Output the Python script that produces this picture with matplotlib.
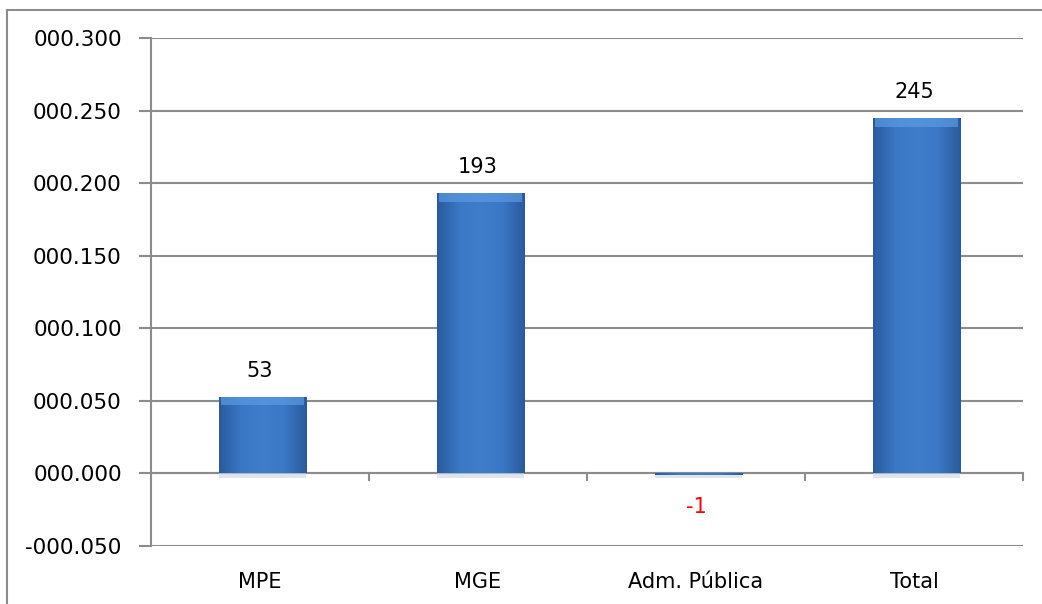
import matplotlib
matplotlib.use("Agg")
import matplotlib.pyplot as plt
import numpy as np
from matplotlib.patches import Rectangle
from matplotlib.colors import LinearSegmentedColormap
from matplotlib.ticker import FuncFormatter, MultipleLocator

categories = ["MPE", "MGE", "Adm. Pública", "Total"]
values = [0.053, 0.193, -0.001, 0.245]
labels = ["53", "193", "-1", "245"]
label_colors = ["black", "black", "red", "black"]

plt.rcParams['font.family'] = ['DejaVu Sans']

fig = plt.figure(figsize=(10.42, 6.04), dpi=100)
# outer chart border (only top & left visible)
fig.add_artist(plt.Line2D([7/1042, 7/1042], [0, 1 - 10/604], color="#8c8c8c", lw=1.5))
fig.add_artist(plt.Line2D([7/1042, 1], [1 - 10/604, 1 - 10/604], color="#8c8c8c", lw=1.5))

ax = fig.add_axes([151/1042, 1 - 546/604, (1023 - 151)/1042, (546 - 38)/604])
ax.set_xlim(-0.5, len(categories) - 0.5)
ax.set_ylim(-0.05, 0.3)
ax.yaxis.set_major_locator(MultipleLocator(0.05))

def fmt(v, pos):
    s = f"{abs(v):07.3f}"
    return ("-" if v < -1e-9 else "") + s
ax.yaxis.set_major_formatter(FuncFormatter(fmt))

grid_c = "#8c8c8c"
ax.grid(axis="y", color=grid_c, lw=1.5, zorder=0)
ax.set_axisbelow(True)
for s in ["top", "right", "bottom"]:
    ax.spines[s].set_visible(False)
ax.spines["left"].set_color(grid_c)
ax.spines["left"].set_linewidth(1.5)
ax.tick_params(axis="y", length=9, width=1.5, color=grid_c, labelsize=15.5, pad=12)
ax.tick_params(axis="x", length=0, labelsize=15, pad=19)
ax.set_xticks(range(len(categories)))
ax.set_xticklabels(categories)

# zero axis with category boundary ticks
ax.axhline(0, color=grid_c, lw=1.5, zorder=1)
for b in np.arange(0.5, len(categories), 1.0):
    ax.plot([b, b], [0, -0.0045], color=grid_c, lw=1.5, zorder=1, clip_on=False)

# gradient bars
cmap = LinearSegmentedColormap.from_list("bar", ["#2a5a9c", "#3a77c4", "#3f7dcb", "#3a77c4", "#2a5a9c"])
grad = np.tile(np.linspace(0, 1, 256), (2, 1))
width = 0.4
offset = 0.012
for i, v in enumerate(values):
    x0 = i - width/2 + offset
    bottom = min(0, v)
    h = abs(v)
    # slight shadow below
    ax.add_patch(Rectangle((x0, -0.003), width, 0.003, color="#c8d4e4", alpha=0.6, zorder=2, lw=0))
    rect = Rectangle((x0, bottom), width, h, facecolor="none", edgecolor="none", zorder=3)
    ax.add_patch(rect)
    im = ax.imshow(grad, cmap=cmap, aspect="auto",
                   extent=[x0, x0 + width, bottom, bottom + h], zorder=3)
    im.set_clip_path(rect)
    if v > 0.01:
        ax.add_patch(Rectangle((x0 + 0.01, v - 0.006), width - 0.02, 0.006,
                               color="#5b9be3", alpha=0.7, zorder=4, lw=0))
    if v >= 0:
        ax.text(i, v + 0.011, labels[i], ha="center", va="bottom", fontsize=15, color=label_colors[i])
    else:
        ax.text(i, v - 0.022, labels[i], ha="center", va="center", fontsize=15, color=label_colors[i])

ax.set_xlim(-0.5, len(categories) - 0.5)
ax.set_ylim(-0.05, 0.3)

fig.savefig("out.png", dpi=100)
